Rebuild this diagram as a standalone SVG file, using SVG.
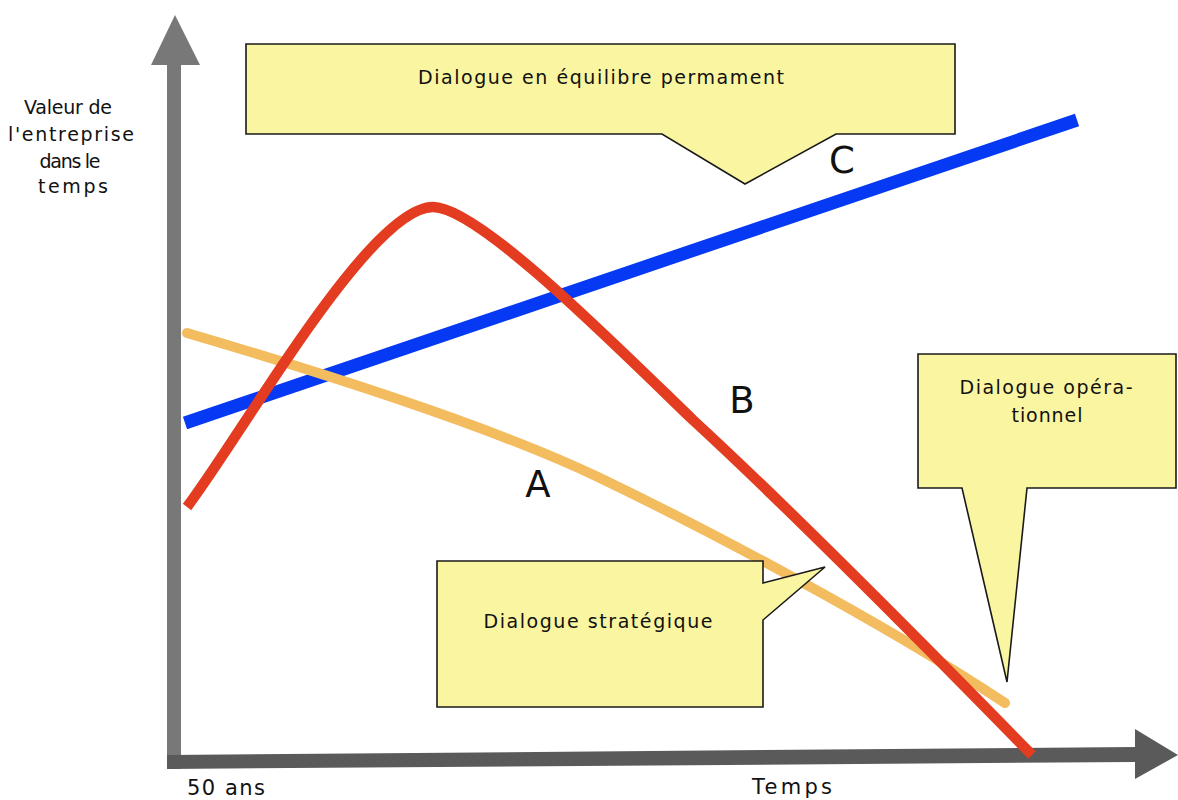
<svg xmlns="http://www.w3.org/2000/svg" width="1178" height="800" viewBox="0 0 1178 800">
  <style>
    .lbl { font-family: "DejaVu Sans", Verdana, sans-serif; font-size: 19px; fill: #111; }
    .big { font-family: "DejaVu Sans", Verdana, sans-serif; font-size: 37px; fill: #111; text-anchor: middle; }
    .call { fill: #FAF5A0; stroke: #1a1a1a; stroke-width: 1.6; stroke-linejoin: miter; }
    .curve { fill: none; }
  </style>
  <rect width="1178" height="800" fill="#ffffff"/>

  <g id="axes">
    <rect x="167" y="60" width="14" height="709" fill="#787878"/>
    <polygon points="175,15 200,65 151,65" fill="#787878"/>
    <polygon points="167,755 1136,747 1136,762 167,769" fill="#5a5a5a"/>
    <polygon points="1135,729 1178,755 1135,779" fill="#5a5a5a"/>
  </g>

  <g id="curves">
    <path id="curve-C" class="curve" d="M185,423 L1077,120" stroke="#0639F3" stroke-width="13"/>
    <path id="curve-A" class="curve" d="M187,333 C330,375 500,430 600,478 C700,526 880,620 1005,703" stroke="#F2BC5F" stroke-width="10" stroke-linecap="round"/>
    <path id="curve-B" class="curve" d="M187,507 C245,430 370,207 433,207 C478,207 610,340 693,420 C780,500 900,620 1032,755" stroke="#E33C20" stroke-width="10.5"/>
  </g>

  <g id="callout-equilibre">
    <path class="call" d="M246,44 H955 V134 H836 L745,184 L662,134 H246 Z"/>
    <text class="lbl" x="601" y="84" text-anchor="middle" textLength="366" lengthAdjust="spacing">Dialogue en équilibre permament</text>
  </g>

  <g id="callout-strategique">
    <path class="call" d="M437,561 H763 V583 L825,567 L763,620 V707 H437 Z"/>
    <text class="lbl" x="598" y="628" text-anchor="middle" textLength="229" lengthAdjust="spacing">Dialogue stratégique</text>
  </g>

  <g id="callout-operationnel">
    <path class="call" d="M918,354 H1176 V488 H1027 L1007,682 L962,488 H918 Z"/>
    <text class="lbl" x="1046" y="394" text-anchor="middle" textLength="173" lengthAdjust="spacing">Dialogue opéra-</text>
    <text class="lbl" x="1047" y="422" text-anchor="middle" textLength="71" lengthAdjust="spacing">tionnel</text>
  </g>

  <g id="curve-labels">
    <text class="big" x="538" y="497">A</text>
    <text class="big" x="742" y="413">B</text>
    <text class="big" x="842" y="173">C</text>
  </g>

  <g id="axis-labels">
    <text class="lbl" x="68" y="114" text-anchor="middle" textLength="88" lengthAdjust="spacing">Valeur de</text>
    <text class="lbl" x="71" y="141" text-anchor="middle" textLength="126" lengthAdjust="spacing">l'entreprise</text>
    <text class="lbl" x="70" y="168" text-anchor="middle" textLength="61" lengthAdjust="spacing">dans le</text>
    <text class="lbl" x="73" y="193" text-anchor="middle" textLength="70" lengthAdjust="spacing">temps</text>
    <text class="lbl" x="187" y="795" textLength="78" lengthAdjust="spacing" style="font-size:21px">50 ans</text>
    <text class="lbl" x="752" y="794" textLength="80" lengthAdjust="spacing" style="font-size:21px">Temps</text>
  </g>
</svg>
